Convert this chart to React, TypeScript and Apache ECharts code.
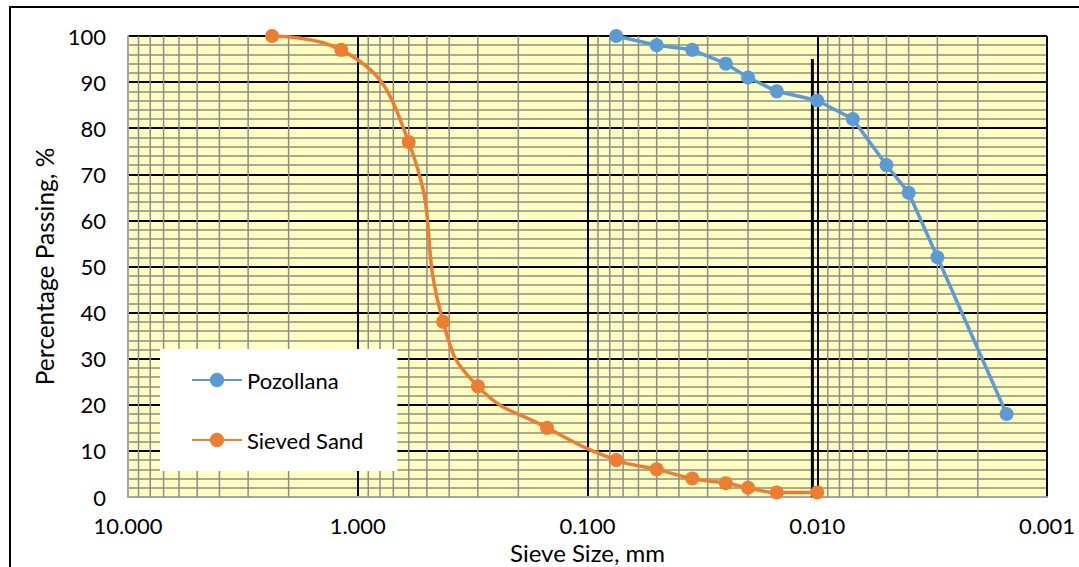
import React, { useEffect, useRef } from "react";
import * as echarts from "echarts";

// Sieve sizes (mm) and percentage passing
const pozollanaSize = [0.075, 0.05, 0.035, 0.025, 0.02, 0.015, 0.01, 0.007, 0.005, 0.004, 0.003, 0.0015];
const pozollanaPass = [100, 98, 97, 94, 91, 88, 86, 82, 72, 66, 52, 18];

const sandSize = [2.36, 1.18, 0.6, 0.425, 0.3, 0.15, 0.075, 0.05, 0.035, 0.025, 0.02, 0.015, 0.01];
const sandPass = [100, 97, 77, 38, 24, 15, 8, 6, 4, 3, 2, 1, 1];

// Marker line near 0.01 mm
const markerSize = [0.0105, 0.0105];
const markerPass = [0, 95];

const xTickLabels = ["10.000", "1.000", "0.100", "0.010", "0.001"];

const minorX: number[] = [];
[0.001, 0.01, 0.1, 1].forEach((d) => {
  for (let m = 2; m <= 9; m++) minorX.push(+(m * d).toPrecision(3));
});

const FONT = "Lato, 'Open Sans', sans-serif";

export default function App() {
  const ref = useRef<HTMLDivElement>(null);
  useEffect(() => {
    if (!ref.current) return;
    const chart = echarts.init(ref.current, undefined, { renderer: "svg" });
    const option: any = {
      animation: false,
      backgroundColor: "#ffffff",
      textStyle: { fontFamily: FONT },
      graphic: [
        {
          type: "rect",
          shape: { x: 10, y: 7, width: 1100, height: 620 },
          style: { fill: "none", stroke: "#000", lineWidth: 2 },
          silent: true,
          z: 100,
        },
      ],
      grid: {
        left: 128,
        top: 36,
        width: 919,
        height: 461,
        show: true,
        backgroundColor: "#FFFFC0",
        borderWidth: 0,
        containLabel: false,
        outerBoundsMode: "none",
      },
      legend: {
        orient: "vertical",
        left: 160,
        top: 349,
        backgroundColor: "#ffffff",
        padding: [20, 34, 20, 31],
        itemGap: 38,
        itemWidth: 50,
        itemHeight: 18,
        data: ["Pozollana", "Sieved Sand"],
        textStyle: { fontSize: 22, fontFamily: FONT, color: "#000", lineHeight: 20, padding: [0, 0, 0, 0] },
      },
      xAxis: {
        type: "log",
        logBase: 10,
        min: 0.001,
        max: 10,
        inverse: true,
        name: "Sieve Size, mm",
        nameLocation: "middle",
        nameGap: 40,
        nameTextStyle: { fontSize: 24, fontFamily: FONT, color: "#000", lineHeight: 22 },
        axisLine: { show: true, onZero: false, lineStyle: { color: "#a6a6a6", width: 2 } },
        axisTick: { show: false },
        axisLabel: {
          fontSize: 22,
          fontFamily: FONT,
          color: "#000",
          margin: 17,
          formatter: (v: number) => {
            const e = Math.round(Math.log10(v));
            return xTickLabels[1 - e] ?? v.toFixed(3);
          },
        },
        splitLine: { show: true, lineStyle: { color: "#000", width: 2 } },
      },
      yAxis: {
        type: "value",
        min: 0,
        max: 100,
        interval: 10,
        name: "Percentage Passing, %",
        nameLocation: "middle",
        nameGap: 71,
        nameTextStyle: { fontSize: 24.5, fontFamily: FONT, color: "#000" },
        axisLine: { show: true, onZero: false, lineStyle: { color: "#a6a6a6", width: 2 } },
        axisTick: { show: false },
        axisLabel: { fontSize: 22, fontFamily: FONT, color: "#000", margin: 22 },
        splitLine: { show: true, lineStyle: { color: "#000", width: 2 } },
        minorTick: { show: false, splitNumber: 5 },
        minorSplitLine: { show: true, lineStyle: { color: "#8c8c8c", width: 1.5 } },
      },
      series: [
        {
          type: "custom",
          name: "minorGrid",
          silent: true,
          z: 1,
          data: minorX.map((v) => [v, 0]),
          encode: { x: 0, y: 1 },
          renderItem: (params: any, api: any) => {
            const p0 = api.coord([api.value(0), 0]);
            const p1 = api.coord([api.value(0), 100]);
            return {
              type: "line",
              shape: { x1: p0[0], y1: p0[1], x2: p1[0], y2: p1[1] },
              style: { stroke: "#8c8c8c", lineWidth: 1.5 },
            };
          },
        },
        {
          type: "line",
          name: "Pozollana",
          data: pozollanaSize.map((s, i) => [s, pozollanaPass[i]]),
          symbol: "circle",
          symbolSize: 14,
          z: 5,
          lineStyle: { color: "#5B9BD5", width: 3.5 },
          itemStyle: { color: "#5B9BD5" },
        },
        {
          type: "line",
          name: "Sieved Sand",
          data: sandSize.map((s, i) => [s, sandPass[i]]),
          symbol: "circle",
          symbolSize: 14,
          smooth: 0.5,
          z: 5,
          lineStyle: { color: "#ED7D31", width: 3.5 },
          itemStyle: { color: "#ED7D31" },
        },
        {
          type: "line",
          name: "marker",
          data: markerSize.map((s, i) => [s, markerPass[i]]),
          symbol: "none",
          z: 4,
          lineStyle: { color: "#000", width: 3 },
          silent: true,
        },
      ],
    };
    chart.setOption(option);
    return () => chart.dispose();
  }, []);
  return (
    <div
      ref={ref}
      style={{ position: "fixed", left: 0, top: 0, width: 1079, height: 567, background: "#fff" }}
    />
  );
}
